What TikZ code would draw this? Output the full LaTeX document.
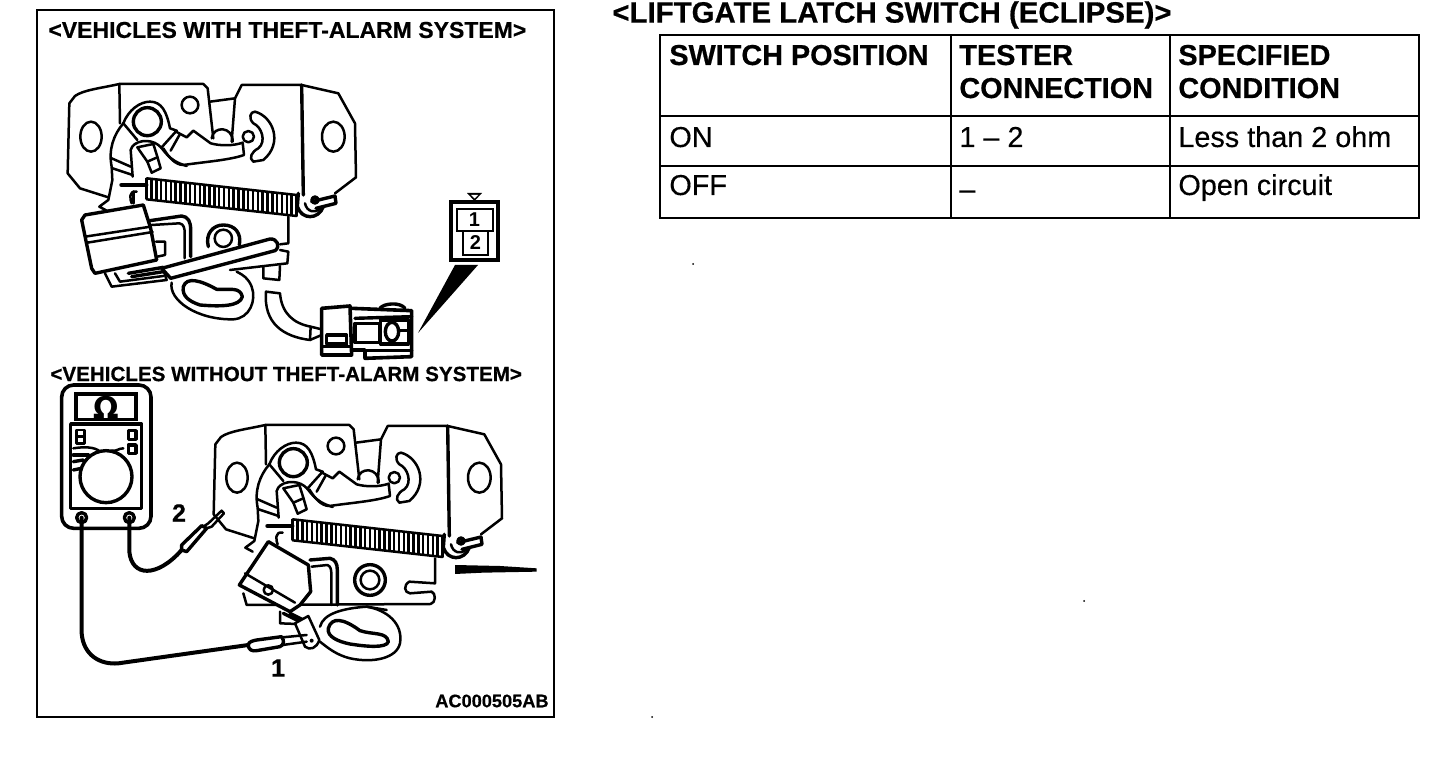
\documentclass[tikz,border=0pt]{standalone}
\usepackage{fontspec}
\setmainfont{Liberation Sans}
\newfontfamily\tblfont[FakeBold=0.3]{Liberation Sans}
\newfontfamily\headfont[FakeBold=0.6]{Liberation Sans Bold}
\newfontfamily\omegafont{DejaVu Sans Bold}
\tikzset{
  ln/.style={line width=1.25pt,line join=round,line cap=round},
  thk/.style={line width=1.7pt,line join=round,line cap=round},
  lead/.style={line width=2pt,line cap=round},
  rule/.style={line width=1pt},
  title/.style={inner sep=0pt,anchor=west},
  hcell/.style={inner sep=0pt,anchor=base west,font=\headfont\fontsize{14.4}{16}\selectfont},
  cell/.style={inner sep=0pt,anchor=base west,font=\tblfont\fontsize{14.4}{16}\selectfont},
  callout/.style={inner sep=0pt,font=\headfont\fontsize{9.1}{11}\selectfont},
}
\newcommand{\latchbody}{%
  % plate
  \draw[ln] (238,72) .. controls (180,85) and (130,90) .. (105,108) -- (88,130) -- (83,340) -- (120,385) -- (205,412);
  \draw[ln] (238,72) -- (490,72) -- (503,85) -- (520,235);
  \draw[ln] (238,72) -- (240,190);
  \draw[ln] (510,125) -- (585,115) -- (605,75) -- (785,75) -- (895,100) -- (945,190) -- (948,352) -- (885,400);
  \draw[thk] (785,75) -- (790,405);
  \draw[ln] (585,115) -- (575,245);
  \draw[ln] (153,230) ellipse [x radius=32,y radius=45];
  \draw[ln] (880,230) ellipse [x radius=34,y radius=45];
  \draw[ln] (450,135) circle [radius=25];
  % slot
  \draw[ln] (645,155) .. controls (700,170) and (730,250) .. (670,300) -- (640,305) .. controls (625,295) and (635,275) .. (655,265) .. controls (680,245) and (665,200) .. (640,190) .. controls (625,175) and (630,155) .. (645,155) -- cycle;
  \draw[ln] (625,230) circle [radius=17];
  % cam arm
  \draw[thk] (322,185) circle [radius=42];
  \draw[ln] (250,190) .. controls (265,150) and (300,125) .. (330,125) .. controls (365,125) and (380,155) .. (390,205) -- (410,212) -- (365,262);
  \draw[ln] (250,190) -- (292,240);
  \draw[ln] (250,190) .. controls (220,225) and (205,270) .. (215,320) -- (217,360) -- (205,420) -- (178,440) -- (200,452);
  \draw[ln] (420,222) -- (392,272);
  % hook
  \draw[ln] (408,215) -- (440,232) -- (460,212) -- (512,250) .. controls (540,258) and (580,258) .. (608,248) -- (612,285) .. controls (570,300) and (500,305) .. (430,315) .. controls (405,315) and (385,290) .. (370,265);
  \draw[ln] (515,235) .. controls (520,195) and (580,200) .. (578,245);
  % inner lever
  \draw[ln] (278,350) -- (272,270) .. controls (280,240) and (330,235) .. (355,255) .. controls (375,270) and (380,300) .. (440,318);
  \draw[ln] (292,262) -- (340,252) -- (352,290) -- (362,325) -- (335,338) -- (322,305) -- cycle;
  \draw[ln] (322,305) -- (352,292);
  \draw[ln] (215,295) -- (272,320);
  \draw[ln] (218,325) -- (278,345);
  % spring
  \draw[line width=2.4pt,line cap=round] (245,375) -- (318,375);
  \draw[ln] (290,395) .. controls (265,390) and (270,420) .. (275,430);
  \draw[ln] (320,355) -- (770,405);
  \draw[ln] (320,418) -- (770,468);
  \foreach \i in {0,1,...,31}{
    \pgfmathsetmacro{\xx}{320+\i*14.5}
    \pgfmathsetmacro{\yy}{\i*1.6}
    \draw[line width=1.25pt] (\xx,355+\yy) -- (\xx,418+\yy);
  }
  % spring end
  \draw[thk] (775,400) -- (772,440) .. controls (785,480) and (835,480) .. (850,440);
  \draw[ln] (795,430) .. controls (800,455) and (825,462) .. (840,445);
  \draw[thk] (815,425) -- (885,408) -- (888,430) -- (828,445);
  \draw[thk] (825,420) circle [radius=9];
}
\begin{document}
\begin{tikzpicture}[x=0.5pt,y=-0.5pt]
\useasboundingbox (0,0) rectangle (1440,774);
\fill[white] (0,0) rectangle (1440,774);

% frame
\draw[rule,line width=1.1pt] (37,10) rectangle (554,717);
\node[title,font=\headfont\fontsize{11.5}{13}\selectfont] (titleA) at (48,30) {<VEHICLES WITH THEFT-ALARM SYSTEM>};
\node[title,font=\headfont\fontsize{10.3}{12}\selectfont] (titleB) at (50,374) {<VEHICLES WITHOUT THEFT-ALARM SYSTEM>};
\node[title,font=\headfont\fontsize{14.7}{16}\selectfont] (titleC) at (612,15) {<LIFTGATE LATCH SWITCH (ECLIPSE)>};

% ===== upper latch =====
\begin{scope}[shift={(40,60)},scale=1/3]
  \latchbody
  % lower plate
  \draw[ln] (745,470) -- (745,550) -- (720,553);
  \draw[ln] (280,430) -- (280,395);
  \draw[thk] (330,482) -- (425,468) .. controls (445,470) and (452,485) .. (452,510) -- (452,590);
  \draw[ln] (335,495) -- (418,490) .. controls (432,492) and (434,505) .. (434,520) -- (434,595);
  \draw[ln] (348,545) -- (375,545) -- (375,585) -- (352,590);
  \draw[ln] (550,535) circle [radius=26];
  \draw[thk] (505,560) .. controls (495,520) and (520,495) .. (550,495) .. controls (585,495) and (605,520) .. (598,555);
  % switch
  \draw[thk,fill=white] (125,480) -- (135,465) -- (310,435) -- (332,505) -- (350,600) -- (165,640) -- (155,625) -- cycle;
  \draw[ln] (135,530) -- (332,500);
  \draw[ln] (142,548) -- (338,516);
  % strap beneath switch
  \draw[ln] (195,640) -- (215,680) -- (380,660) -- (370,630);
  \draw[ln] (225,640) -- (240,665) -- (370,648);
  \draw[thk] (265,640) -- (370,622);
  \draw[thk] (275,650) -- (370,635);
  % lever
  \draw[thk,fill=white] (365,625) -- (690,537) .. controls (712,535) and (722,560) .. (705,572) -- (392,655) -- cycle;
  \draw[ln] (720,570) -- (745,575) -- (742,610) -- (570,630);
  \draw[ln] (670,622) -- (670,655) -- (718,660) -- (720,618);
  % loop
  \draw[ln] (395,668) .. controls (385,720) and (470,780) .. (580,778) .. controls (630,775) and (650,720) .. (635,680) .. controls (625,655) and (610,645) .. (590,635);
  \draw[thk] (430,680) .. controls (440,650) and (480,660) .. (530,688) .. controls (570,690) and (600,680) .. (607,710) .. controls (600,740) and (540,740) .. (480,735) .. controls (450,725) and (425,710) .. (430,680) -- cycle;
  % wire
  \draw[ln] (678,695) -- (720,700) .. controls (725,760) and (760,790) .. (812,800) -- (810,840) .. controls (730,830) and (670,790) .. (678,695) -- cycle;
  % connector
  \draw[ln] (812,800) -- (845,808);
  \draw[ln] (810,840) -- (845,825);
  \draw[thk,line width=1.8pt] (845,745) -- (930,738) -- (935,885) -- (845,885) -- cycle;
  \draw[thk] (860,825) rectangle (920,852);
  \draw[ln] (845,860) -- (930,860);
  \draw[thk,line width=1.8pt] (935,745) -- (1115,752) -- (1115,890) -- (975,895) -- (975,870) -- (935,870);
  \draw[thk] (1020,745) .. controls (1030,730) and (1080,725) .. (1095,745);
  \draw[thk] (945,775) -- (1115,770);
  \draw[thk] (945,790) rectangle (1018,848);
  \draw[thk,line width=1.8pt] (1022,780) rectangle (1105,852);
  \draw[thk] (1056,815) ellipse [x radius=20,y radius=28];
  \draw[thk] (1076,812) -- (1105,812);
  \draw[thk] (975,872) -- (1115,872);
\end{scope}
% callout wedge
\fill (418,333) -- (455,265) -- (478,265) -- cycle;
\draw[line width=1.6pt] (451,202) rectangle (498,260);
\draw[line width=1.3pt] (457,209) -- (493,209) -- (493,231) -- (488,231) -- (488,255) -- (463,255) -- (463,231) -- (457,231) -- cycle;
\draw[line width=0.8pt] (463,231) -- (488,231);
\fill (467,193) -- (482,193) -- (474.5,201) -- cycle;
\fill[white] (471,195) -- (478,195) -- (474.5,198.5) -- cycle;
\node[inner sep=0pt,font=\bfseries\fontsize{10}{10}\selectfont] (pinA) at (474.5,220) {1};
\node[inner sep=0pt,font=\bfseries\fontsize{10}{10}\selectfont] (pinB) at (475.5,243) {2};

% ===== lower latch =====
\begin{scope}[shift={(186,401)},scale=1/3]
  \latchbody
\end{scope}
\begin{scope}[shift={(200,410)},scale=1/3]
  \draw[ln] (705,445) -- (705,520) -- (628,515) .. controls (610,525) and (612,548) .. (630,550) -- (695,545) .. controls (708,550) and (708,578) .. (692,582) -- (140,585) -- (130,550);
  \draw[thk] (330,450) -- (390,445) .. controls (405,448) and (412,460) .. (412,480) -- (412,585);
  \draw[ln] (335,470) -- (382,465) .. controls (392,468) and (394,480) .. (394,490) -- (394,585);
  \draw[ln] (510,510) circle [radius=28];
  \draw[thk] (510,510) circle [radius=46];
  % switch
  \draw[thk,fill=white] (118,525) -- (205,395) -- (325,465) -- (332,545) -- (300,585) -- (270,605) -- cycle;
  \draw[ln] (135,490) -- (285,578);
  \draw[ln] (205,540) circle [radius=14];
  \draw[ln] (240,605) -- (240,640) -- (292,642);
  \draw[thk] (250,610) -- (300,635);
  \draw[thk] (270,610) -- (330,640);
  % loop
  \draw[ln] (360,650) .. controls (370,610) and (430,595) .. (500,590) .. controls (560,600) and (610,640) .. (600,700) .. controls (590,745) and (520,760) .. (450,745) .. controls (410,735) and (385,715) .. (360,695);
  \draw[thk] (385,655) .. controls (395,620) and (430,625) .. (480,662) .. controls (520,675) and (560,665) .. (565,695) .. controls (560,715) and (500,710) .. (450,702) .. controls (415,695) and (380,680) .. (385,655) -- cycle;
  \draw[ln] (500,590) -- (560,600);
  % terminal
  \draw[ln,fill=white] (285,640) -- (315,710) .. controls (330,722) and (350,715) .. (358,690) -- (325,618) -- cycle;
  \fill (335,692) circle [radius=6];
  % label smudge
  \fill (765,465) -- (900,468) -- (1010,475) -- (1010,485) -- (850,488) -- (765,492) -- cycle;
\end{scope}
% ===== meter =====
\begin{scope}[shift={(40,380)},scale=1/3]
  \draw[thk,line width=1.8pt,rounded corners=6pt] (65,15) rectangle (333,445);
  \draw[line width=1.8pt] (108,42) rectangle (288,118);
  \node[inner sep=0pt,font=\omegafont\fontsize{15}{16}\selectfont] (ohm) at (198,82) {Ω};
  \draw[thk] (92,132) rectangle (305,385);
  \draw[thk] (198,290) circle [radius=78];
  \draw[ln] (110,150) rectangle (133,190);
  \draw[ln] (110,170) -- (133,170);
  \draw[thk] (265,152) rectangle (288,178);
  \draw[thk] (265,195) rectangle (288,220);
  \draw[ln] (100,205) .. controls (130,200) and (165,200) .. (180,215);
  \draw[ln] (215,212) .. controls (230,215) and (235,205) .. (250,205);
  \draw[thk] (100,225) -- (145,225);
  \draw[thk] (100,245) -- (130,240);
  \draw[thk] (100,270) -- (125,265);
  \draw[thk] (125,413) circle [radius=15];
  \draw[thk] (268,413) circle [radius=15];
  \coordinate (jackA) at (125,413);
  \coordinate (jackB) at (268,413);
  \coordinate (tipA) at (625,795);
  \coordinate (tipB) at (425,510);
  \fill (125,413) circle [radius=4];
  \fill (268,413) circle [radius=4];
  \draw[lead] (jackA) -- (125,760) .. controls (130,825) and (180,855) .. (235,850) -- (tipA);
  \draw[lead] (jackB) -- (268,515) .. controls (275,590) and (350,595) .. (tipB);
  % probe 2
  \draw[thk,fill=white] (tipB) -- (425,495) -- (485,437) -- (500,445) -- (440,515) -- cycle;
  \draw[ln] (490,440) -- (505,430) -- (545,392) -- (552,400) -- (515,440) -- (500,445);
  % probe 1
  \draw[thk,fill=white] (tipA) .. controls (625,785) and (640,782) .. (650,780) -- (725,770) .. controls (735,785) and (730,795) .. (720,800) -- (650,812) .. controls (635,815) and (625,808) .. (tipA);
  \draw[ln] (728,772) -- (800,765);
  \draw[ln] (728,795) -- (800,785);
\end{scope}
\node[inner sep=0pt,font=\headfont\fontsize{12.5}{13}\selectfont] (lab2) at (179,513) {2};
\node[inner sep=0pt,font=\headfont\fontsize{12.5}{13}\selectfont] (lab1) at (278,668) {1};
\node[callout,anchor=east] (code) at (549,701) {AC000505AB};

% ===== table =====
\draw[rule] (660,35) rectangle (1419,218);
\draw[rule] (951,35) -- (951,218);
\draw[rule] (1170,35) -- (1170,218);
\draw[rule] (660,116) -- (1419,116);
\draw[rule] (660,166) -- (1419,166);
\node[hcell] (h1) at (669,65) {SWITCH POSITION};
\node[hcell] (h2a) at (959,65) {TESTER};
\node[hcell] (h2b) at (959,98) {CONNECTION};
\node[hcell] (h3a) at (1178,65) {SPECIFIED};
\node[hcell] (h3b) at (1178,98) {CONDITION};
\node[cell] (c11) at (669,147) {ON};
\node[cell] (c12) at (959,147) {1 – 2};
\node[cell] (c13) at (1178,147) {Less than 2 ohm};
\node[cell] (c21) at (669,195) {OFF};
\node[cell] (c22) at (959,199) {–};
\node[cell] (c23) at (1178,195) {Open circuit};

% specks
\fill (693,264) circle [radius=1];
\fill (1084,601) circle [radius=1];
\fill (652,717) circle [radius=1];
\end{tikzpicture}
\end{document}
